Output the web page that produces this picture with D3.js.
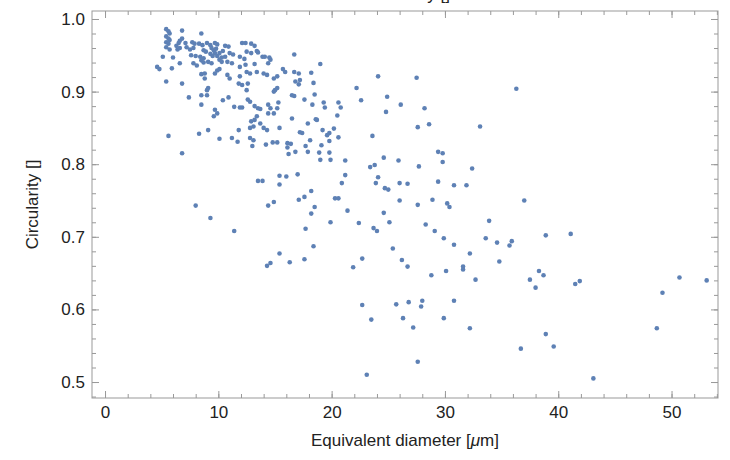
<!DOCTYPE html>
<html>
<head>
<meta charset="utf-8">
<script src="https://cdn.jsdelivr.net/npm/d3@7"></script>
<style>
  body { margin: 0; background: #fff; }
  svg { display: block; font-family: "Liberation Sans", Arial, sans-serif; }
  .tick text { fill: #222; font-size: 17px; }
  .tick line { stroke: #999; }
</style>
</head>
<body>
<div id="chart"></div>
<script>

// equivalent diameter [um] of each particle
var diameter = [
	5.4,5.6,5.7,6.8,8.5,5.4,5.6,5.7,6.8,6.6,5.4,5.6,6.5,7.1,7.7,7.9,8.3,8.6,9.0,9.3,9.7,9.9,
	5.4,5.7,6.3,6.4,6.6,7.2,7.5,7.8,8.7,8.9,9.4,9.6,9.8,5.1,6.0,7.6,8.0,8.4,8.7,9.3,9.5,9.7,9.9,
	4.6,4.8,5.9,6.6,7.8,8.1,8.5,8.7,9.1,9.4,5.4,6.8,8.5,8.8,8.8,9.9,9.7,7.4,8.5,9.0,9.1,9.0,
	8.5,9.7,9.9,9.6,5.6,8.3,9.1,6.8,8.0,9.3,
	10.6,10.9,12.1,12.4,12.9,13.2,10.4,10.1,11.0,11.3,12.5,12.9,13.4,13.5,14.1,14.5,16.7,
	10.3,10.6,11.9,12.3,13.9,14.6,14.4,10.1,10.3,10.8,11.2,11.9,12.4,13.2,15.7,15.9,16.7,10.1,
	10.8,11.0,11.9,12.5,12.8,13.4,14.0,14.3,14.9,15.2,16.8,10.4,10.9,11.8,12.1,12.6,12.5,
	14.9,15.0,15.2,16.5,16.7,11.4,11.9,12.1,12.6,12.8,13.2,13.5,13.7,14.4,14.6,15.2,15.3,
	14.4,14.9,13.4,13.2,12.8,14.0,14.3,15.4,16.5,12.9,13.1,13.7,10.1,11.2,11.7,11.8,12.8,13.1,
	14.2,14.8,15.2,13.0,16.1,16.4,16.1,16.2,16.8,11.4,13.5,13.9,15.4,16.0,15.4,14.9,14.4,
	15.4,16.3,14.3,14.6,
	17.1,17.2,17.1,19.0,18.2,18.4,18.5,17.6,18.3,19.3,19.4,20.6,20.8,20.5,18.7,17.9,18.6,
	17.2,19.2,19.8,20.2,18.1,19.8,17.7,17.9,19.1,18.9,19.8,19.0,19.9,21.2,17.4,20.6,19.6,
	21.2,20.9,18.2,17.6,20.3,20.6,18.5,18.2,21.4,17.0,17.1,17.7,19.9,18.4,17.6,21.9,
	22.2,24.1,22.6,24.9,26.1,24.8,27.5,28.2,27.6,28.6,33.1,36.3,23.6,24.6,25.9,29.4,29.8,
	29.8,27.7,32.4,23.4,23.8,24.1,23.9,24.7,25.0,26.0,26.7,29.4,30.8,31.9,26.0,27.6,28.9,
	30.2,30.4,24.6,37.0,22.4,23.7,24.0,25.1,28.3,29.1,29.9,30.8,33.6,34.6,33.9,35.7,35.9,
	38.9,41.1,25.4,22.7,26.2,26.7,32.2,34.8,31.6,31.6,30.1,28.8,32.7,38.3,38.7,37.5,38.0,
	41.5,41.9,50.7,53.1,49.2,22.7,25.7,26.8,28.0,27.9,30.8,23.5,26.3,29.9,27.2,32.2,48.7,
	38.9,36.7,39.6,27.6,23.1,43.1
];

// circularity of each particle, same order
var circularity = [
	0.986,0.983,0.980,0.984,0.980,0.976,0.973,0.971,0.973,0.970,0.968,0.966,0.967,0.967,0.968,0.966,0.966,0.964,0.967,0.964,0.967,0.965,
	0.961,0.958,0.963,0.958,0.960,0.961,0.958,0.960,0.957,0.955,0.960,0.957,0.959,0.948,0.947,0.950,0.949,0.948,0.946,0.952,0.949,0.953,0.949,
	0.934,0.931,0.932,0.939,0.939,0.936,0.943,0.940,0.941,0.939,0.914,0.911,0.924,0.925,0.918,0.929,0.925,0.892,0.895,0.895,0.905,0.902,
	0.882,0.875,0.870,0.866,0.839,0.842,0.847,0.815,0.743,0.726,
	0.963,0.962,0.967,0.967,0.966,0.963,0.956,0.953,0.953,0.951,0.955,0.953,0.956,0.954,0.948,0.947,0.951,
	0.947,0.948,0.948,0.945,0.948,0.944,0.939,0.944,0.941,0.941,0.939,0.934,0.937,0.938,0.931,0.927,0.927,0.931,
	0.923,0.918,0.921,0.927,0.925,0.927,0.925,0.923,0.918,0.921,0.914,0.888,0.892,0.911,0.909,0.911,0.902,
	0.900,0.902,0.905,0.895,0.894,0.879,0.878,0.878,0.889,0.886,0.880,0.877,0.876,0.882,0.877,0.877,0.885,
	0.870,0.870,0.866,0.861,0.850,0.850,0.847,0.850,0.863,0.859,0.852,0.856,0.835,0.836,0.831,0.847,0.836,0.833,
	0.827,0.830,0.830,0.825,0.829,0.828,0.823,0.814,0.817,0.708,0.777,0.777,0.784,0.783,0.772,0.748,0.743,
	0.677,0.665,0.660,0.664,
	0.925,0.916,0.910,0.938,0.926,0.912,0.896,0.889,0.882,0.885,0.878,0.885,0.878,0.867,0.861,0.856,0.862,
	0.844,0.847,0.843,0.849,0.833,0.832,0.825,0.817,0.826,0.816,0.816,0.806,0.806,0.805,0.843,0.837,0.840,
	0.785,0.774,0.763,0.755,0.753,0.753,0.741,0.732,0.736,0.786,0.751,0.711,0.720,0.687,0.669,0.658,
	0.905,0.921,0.888,0.893,0.882,0.872,0.919,0.877,0.851,0.855,0.852,0.904,0.839,0.809,0.805,0.817,0.815,
	0.803,0.797,0.794,0.796,0.799,0.782,0.774,0.767,0.765,0.774,0.773,0.776,0.771,0.771,0.750,0.744,0.751,
	0.746,0.741,0.733,0.750,0.719,0.712,0.708,0.720,0.717,0.708,0.698,0.689,0.698,0.692,0.722,0.688,0.694,
	0.702,0.704,0.684,0.670,0.668,0.659,0.677,0.666,0.659,0.655,0.653,0.647,0.641,0.653,0.647,0.641,0.630,
	0.635,0.639,0.644,0.640,0.623,0.606,0.607,0.610,0.612,0.604,0.612,0.586,0.588,0.588,0.575,0.574,0.574,
	0.566,0.546,0.549,0.528,0.510,0.505
];

var xTicks = [0, 10, 20, 30, 40, 50];
var yTicks = [0.5, 0.6, 0.7, 0.8, 0.9, 1.0];

var points = diameter.map(function(d, i) { return {x: d, y: circularity[i]}; });

var width = 730, height = 460;
var margin = {top: 11, right: 12, bottom: 62, left: 92};

var svg = d3.select("#chart").append("svg")
	.attr("width", width)
	.attr("height", height);

var x = d3.scaleLinear().domain([-1.15, 54.1]).range([margin.left, width - margin.right]);
var y = d3.scaleLinear().domain([0.478, 1.011]).range([height - margin.bottom, margin.top]);

var xMinor = d3.range(0, 54.1, 2);
var yMinor = d3.range(0.48, 1.011, 0.02);

// title, mostly cut off at the top edge of the picture
svg.append("text")
	.attr("x", (margin.left + width - margin.right) / 2)
	.attr("y", 0)
	.attr("text-anchor", "middle")
	.style("font-size", "17px")
	.style("fill", "#222")
	.text("Circularity []");

// minor ticks, all four sides, pointing inwards
function minorAxis(axis, scale, vals, tx) {
	svg.append("g")
		.attr("transform", tx)
		.call(axis(scale).tickValues(vals).tickSize(-4).tickFormat(""))
		.call(function(g) { g.select(".domain").remove(); });
}
minorAxis(d3.axisBottom, x, xMinor, "translate(0," + (height - margin.bottom) + ")");
minorAxis(d3.axisTop, x, xMinor, "translate(0," + margin.top + ")");
minorAxis(d3.axisLeft, y, yMinor, "translate(" + margin.left + ",0)");
minorAxis(d3.axisRight, y, yMinor, "translate(" + (width - margin.right) + ",0)");

// major ticks
svg.append("g")
	.attr("transform", "translate(0," + (height - margin.bottom) + ")")
	.call(d3.axisBottom(x).tickValues(xTicks).tickSize(-7).tickPadding(8).tickFormat(d3.format("d")))
	.call(function(g) { g.select(".domain").remove(); });

svg.append("g")
	.attr("transform", "translate(0," + margin.top + ")")
	.call(d3.axisTop(x).tickValues(xTicks).tickSize(-7).tickFormat(""))
	.call(function(g) { g.select(".domain").remove(); });

svg.append("g")
	.attr("transform", "translate(" + margin.left + ",0)")
	.call(d3.axisLeft(y).tickValues(yTicks).tickSize(-7).tickPadding(7).tickFormat(d3.format(".1f")))
	.call(function(g) { g.select(".domain").remove(); });

svg.append("g")
	.attr("transform", "translate(" + (width - margin.right) + ",0)")
	.call(d3.axisRight(y).tickValues(yTicks).tickSize(-7).tickFormat(""))
	.call(function(g) { g.select(".domain").remove(); });

// frame
svg.append("rect")
	.attr("x", margin.left)
	.attr("y", margin.top)
	.attr("width", width - margin.left - margin.right)
	.attr("height", height - margin.top - margin.bottom)
	.attr("fill", "none")
	.attr("stroke", "#999");

// points
svg.append("g").selectAll("circle")
	.data(points)
	.enter()
	.append("circle")
	.attr("cx", function(d) { return x(d.x); })
	.attr("cy", function(d) { return y(d.y); })
	.attr("r", 2.3)
	.attr("fill", "#5E81B5");

// axis titles
svg.append("text")
	.attr("transform", "translate(38," + ((margin.top + height - margin.bottom) / 2) + ") rotate(-90)")
	.attr("text-anchor", "middle")
	.style("font-size", "17px")
	.style("fill", "#222")
	.text("Circularity []");

var xl = svg.append("text")
	.attr("x", (margin.left + width - margin.right) / 2)
	.attr("y", 446)
	.attr("text-anchor", "middle")
	.style("font-size", "17px")
	.style("fill", "#222");
xl.append("tspan").text("Equivalent diameter [");
xl.append("tspan").style("font-style", "italic").text("\u03bc");
xl.append("tspan").text("m]");

</script>
</body>
</html>
